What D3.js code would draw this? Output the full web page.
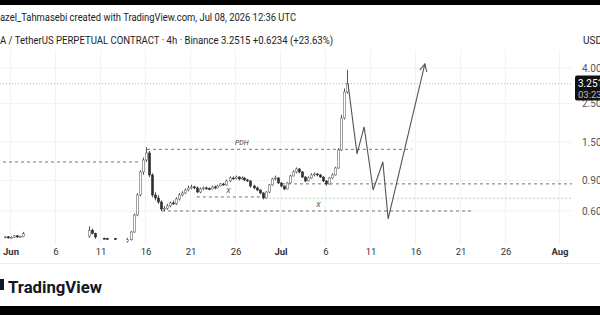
<!DOCTYPE html>
<html lang="en">
<head>
<meta charset="utf-8">
<title>TetherUS perpetual 4h</title>
<script src="https://cdn.jsdelivr.net/npm/d3@7"></script>
<style>
  body { margin: 0; background: #fff; }
  svg { display: block; font-family: Roboto, "Liberation Sans", sans-serif; }
</style>
</head>
<body>
<script>

// ---------- data ----------

// 8h candles, the first one opens 2026-06-14 00:00 UTC
var candleStart = "2026-06-14T00:00:00Z";
var firstOpen = 0.40;
var candleClose = [0.41, 0.454, 0.569, 0.742, 1.007, 1.18, 1.296, 0.968, 0.742, 0.713,
                   0.676, 0.616, 0.622, 0.642, 0.668, 0.660, 0.704, 0.742, 0.762, 0.793,
                   0.815, 0.826, 0.815, 0.772, 0.804, 0.815, 0.810, 0.804, 0.826, 0.815,
                   0.836, 0.859, 0.848, 0.894, 0.930, 0.922, 0.942, 0.918, 0.930, 0.906,
                   0.894, 0.836, 0.815, 0.793, 0.762, 0.713, 0.772, 0.848, 0.918, 0.930,
                   0.870, 0.836, 0.804, 0.870, 0.955, 1.007, 1.048, 1.007, 0.942, 0.894,
                   0.930, 0.968, 0.981, 0.968, 0.942, 0.894, 0.859, 0.930, 0.968, 1.062,
                   1.348, 2.06, 2.91, 3.2515];
var candleHigh  = [0.42, 0.46, 0.58, 0.76, 1.03, 1.22, 1.40, 1.33, 0.99, 0.77,
                   0.74, 0.69, 0.64, 0.66, 0.68, 0.69, 0.72, 0.76, 0.78, 0.81,
                   0.84, 0.85, 0.84, 0.83, 0.82, 0.83, 0.83, 0.82, 0.84, 0.84,
                   0.85, 0.87, 0.87, 0.91, 0.95, 0.95, 0.96, 0.95, 0.95, 0.94,
                   0.92, 0.90, 0.85, 0.83, 0.80, 0.77, 0.78, 0.86, 0.93, 0.96,
                   0.94, 0.88, 0.84, 0.88, 0.97, 1.03, 1.07, 1.06, 1.02, 0.95,
                   0.95, 0.99, 1.00, 0.99, 0.98, 0.95, 0.90, 0.94, 0.99, 1.08,
                   1.38, 2.15, 3.05, 3.90];
var candleLow   = [0.395, 0.405, 0.45, 0.56, 0.73, 0.97, 1.15, 0.94, 0.72, 0.69,
                   0.66, 0.60, 0.60, 0.61, 0.63, 0.65, 0.65, 0.69, 0.73, 0.75,
                   0.78, 0.80, 0.80, 0.76, 0.76, 0.79, 0.80, 0.79, 0.80, 0.80,
                   0.81, 0.83, 0.84, 0.84, 0.88, 0.91, 0.91, 0.90, 0.91, 0.89,
                   0.88, 0.82, 0.80, 0.78, 0.75, 0.70, 0.71, 0.76, 0.84, 0.90,
                   0.86, 0.82, 0.79, 0.80, 0.86, 0.95, 0.99, 0.99, 0.93, 0.88,
                   0.89, 0.92, 0.95, 0.95, 0.93, 0.88, 0.84, 0.85, 0.92, 0.96,
                   1.05, 1.33, 2.02, 2.85];

// scattered early candles before the breakout
var earlyTime  = ["2026-05-31T08:00Z", "2026-05-31T16:00Z", "2026-06-01T00:00Z", "2026-06-01T08:00Z",
                  "2026-06-01T16:00Z", "2026-06-02T00:00Z", "2026-06-02T08:00Z",
                  "2026-06-09T16:00Z", "2026-06-10T00:00Z", "2026-06-10T08:00Z",
                  "2026-06-11T08:00Z", "2026-06-11T16:00Z", "2026-06-12T16:00Z"];
var earlyOpen  = [0.422, 0.426, 0.420, 0.424, 0.432, 0.425, 0.428, 0.43, 0.465, 0.445, 0.418, 0.417, 0.416];
var earlyClose = [0.426, 0.420, 0.424, 0.432, 0.425, 0.428, 0.445, 0.465, 0.445, 0.425, 0.417, 0.416, 0.415];
var earlyHigh  = [0.43, 0.43, 0.428, 0.436, 0.436, 0.432, 0.455, 0.49, 0.475, 0.45, 0.421, 0.42, 0.419];
var earlyLow   = [0.418, 0.416, 0.416, 0.42, 0.42, 0.42, 0.424, 0.42, 0.44, 0.415, 0.413, 0.412, 0.412];

// hand drawn projection path
var projTime  = ["2026-07-08T12:00Z", "2026-07-09T12:00Z", "2026-07-10T07:00Z", "2026-07-11T07:00Z",
                 "2026-07-12T09:00Z", "2026-07-12T23:00Z", "2026-07-17T01:00Z"];
var projPrice = [3.2515, 1.28, 1.83, 0.793, 1.15, 0.54, 4.22];

// horizontal levels
var levelPrice = [1.15, 1.36, 0.86, 0.723, 0.71, 0.60];
var levelFrom  = ["2026-05-30T12:00Z", "2026-06-16T04:00Z", "2026-07-01T04:00Z",
                  "2026-06-21T17:00Z", "2026-06-29T07:00Z", "2026-06-17T20:00Z"];
var levelTo    = ["2026-06-15T12:00Z", "2026-07-15T14:00Z", "2026-08-02T12:00Z",
                  "2026-06-29T07:00Z", "2026-08-02T12:00Z", "2026-07-22T07:00Z"];
var levelKind  = ["dash", "dash", "dash", "dash", "green", "dash"];

// level labels
var noteText  = ["PDH", "X", "X"];
var noteTime  = ["2026-06-26T17:00Z", "2026-06-25T05:00Z", "2026-07-05T05:00Z"];
var notePrice = [1.36, 0.723, 0.60];

// axes
var dateTicks  = ["2026-06-01", "2026-06-06", "2026-06-11", "2026-06-16", "2026-06-21", "2026-06-26",
                  "2026-07-01", "2026-07-06", "2026-07-11", "2026-07-16", "2026-07-21", "2026-07-26", "2026-08-01"];
var dateLabels = ["Jun", "6", "11", "16", "21", "26", "Jul", "6", "11", "16", "21", "26", "Aug"];
var priceTicks = [0.6, 0.9, 1.5, 2.5, 4.0];
var lastPrice = 3.2515;

// ---------- chart ----------

var w = 600, h = 315;
var plotRight = 572, plotTop = 50, plotBottom = 244;

var xScale = d3.scaleUtc()
  .domain([new Date("2026-06-01T00:00:00Z"), new Date("2026-08-01T00:00:00Z")])
  .range([10.5, 559.5]);

var yScale = d3.scaleLog()
  .domain([0.6, 4.0])
  .range([211, 68]);

var svg = d3.select("body").append("svg")
  .attr("width", w)
  .attr("height", h);

svg.append("rect").attr("width", w).attr("height", h).attr("fill", "#fff");

svg.append("clipPath").attr("id", "plot")
  .append("rect")
  .attr("x", 0).attr("y", plotTop)
  .attr("width", plotRight).attr("height", plotBottom - plotTop);

// grid
var grid = svg.append("g").attr("clip-path", "url(#plot)");
grid.selectAll("line.vg")
  .data(dateTicks)
  .enter().append("line")
  .attr("class", "vg")
  .attr("x1", function(d) { return xScale(new Date(d)); })
  .attr("x2", function(d) { return xScale(new Date(d)); })
  .attr("y1", plotTop).attr("y2", plotBottom)
  .attr("stroke", "#f1f2f5");
grid.selectAll("line.hg")
  .data(priceTicks)
  .enter().append("line")
  .attr("class", "hg")
  .attr("x1", 0).attr("x2", plotRight)
  .attr("y1", function(d) { return yScale(d); })
  .attr("y2", function(d) { return yScale(d); })
  .attr("stroke", "#f1f2f5");

// last price line
svg.append("line")
  .attr("x1", 0).attr("x2", plotRight)
  .attr("y1", yScale(lastPrice)).attr("y2", yScale(lastPrice))
  .attr("stroke", "#b8b8b8")
  .attr("stroke-dasharray", "1,2");

// levels
var levels = levelPrice.map(function(p, i) {
  return { p: p, from: new Date(levelFrom[i]), to: new Date(levelTo[i]), kind: levelKind[i] };
});
svg.append("g").attr("clip-path", "url(#plot)")
  .selectAll("line")
  .data(levels)
  .enter().append("line")
  .attr("x1", function(d) { return xScale(d.from); })
  .attr("x2", function(d) { return xScale(d.to); })
  .attr("y1", function(d) { return yScale(d.p); })
  .attr("y2", function(d) { return yScale(d.p); })
  .attr("stroke", function(d) { return d.kind == "green" ? "#a9cfa9" : "#666"; })
  .attr("stroke-dasharray", function(d) { return d.kind == "green" ? "2,2" : "3,3"; })
  .attr("stroke-width", 0.9);

svg.selectAll("text.note")
  .data(noteText)
  .enter().append("text")
  .attr("class", "note")
  .attr("x", function(d, i) { return xScale(new Date(noteTime[i])); })
  .attr("y", function(d, i) { return yScale(notePrice[i]) - 4; })
  .attr("text-anchor", "middle")
  .attr("font-size", 7)
  .attr("font-style", "italic")
  .attr("fill", "#444")
  .text(function(d) { return d; });

// candles
var t0 = new Date(candleStart).getTime();
var step = 8 * 3600 * 1000;
var candles = candleClose.map(function(c, i) {
  return { t: new Date(t0 + i * step), o: i == 0 ? firstOpen : candleClose[i - 1], h: candleHigh[i], l: candleLow[i], c: c };
});
earlyTime.forEach(function(t, i) {
  candles.push({ t: new Date(t), o: earlyOpen[i], h: earlyHigh[i], l: earlyLow[i], c: earlyClose[i] });
});

var cg = svg.append("g").attr("clip-path", "url(#plot)");
cg.selectAll("line.wick")
  .data(candles)
  .enter().append("line")
  .attr("class", "wick")
  .attr("x1", function(d) { return Math.round(xScale(d.t)) + 0.5; })
  .attr("x2", function(d) { return Math.round(xScale(d.t)) + 0.5; })
  .attr("y1", function(d) { return yScale(d.h); })
  .attr("y2", function(d) { return yScale(d.l); })
  .attr("stroke", "#555");
cg.selectAll("rect.body")
  .data(candles)
  .enter().append("rect")
  .attr("class", "body")
  .attr("x", function(d) { return Math.round(xScale(d.t)) - 0.5; })
  .attr("width", 2)
  .attr("y", function(d) { return yScale(Math.max(d.o, d.c)); })
  .attr("height", function(d) { return Math.max(1, Math.abs(yScale(d.o) - yScale(d.c))); })
  .attr("fill", function(d) { return d.c >= d.o ? "#fff" : "#2e2e2e"; })
  .attr("stroke", function(d) { return d.c >= d.o ? "#666" : "#2e2e2e"; })
  .attr("stroke-width", 0.6);

// projection with arrow head
svg.append("defs").append("marker")
  .attr("id", "arrow")
  .attr("viewBox", "0 0 10 10")
  .attr("refX", 9).attr("refY", 5)
  .attr("markerWidth", 9).attr("markerHeight", 9)
  .attr("markerUnits", "userSpaceOnUse")
  .attr("orient", "auto")
  .append("path")
  .attr("d", "M1,1 L9,5 L1,9")
  .attr("fill", "none")
  .attr("stroke", "#555")
  .attr("stroke-width", 1.2);

var proj = projTime.map(function(t, i) { return [new Date(t), projPrice[i]]; });
svg.append("path")
  .datum(proj)
  .attr("d", d3.line()
    .x(function(d) { return xScale(d[0]); })
    .y(function(d) { return yScale(d[1]); }))
  .attr("fill", "none")
  .attr("stroke", "#555")
  .attr("stroke-width", 1.1)
  .attr("marker-end", "url(#arrow)");

// x axis
var xAxis = d3.axisBottom(xScale)
  .tickValues(dateTicks.map(function(d) { return new Date(d + "T00:00:00Z"); }))
  .tickFormat(function(d, i) { return dateLabels[i]; })
  .tickSize(0)
  .tickPadding(0);
var xg = svg.append("g")
  .attr("transform", "translate(0,248)")
  .call(xAxis);
xg.select(".domain").remove();
xg.selectAll("text")
  .attr("font-family", "Roboto, sans-serif")
  .attr("font-size", 9.5)
  .attr("fill", "#333")
  .attr("font-weight", function(d, i) { return isNaN(+dateLabels[i]) ? "bold" : "normal"; });

// y axis
var yAxis = d3.axisRight(yScale)
  .tickValues(priceTicks)
  .tickFormat(d3.format(".3f"))
  .tickSize(0)
  .tickPadding(10);
var yg = svg.append("g")
  .attr("transform", "translate(" + plotRight + ",0)")
  .call(yAxis);
yg.select(".domain").remove();
yg.selectAll("text")
  .attr("font-family", "Roboto, sans-serif")
  .attr("font-size", 10)
  .attr("fill", "#555");

// last price tag
var tagY = yScale(lastPrice);
svg.append("rect")
  .attr("x", 575).attr("y", tagY - 8)
  .attr("width", 30).attr("height", 25)
  .attr("rx", 2)
  .attr("fill", "#111");
svg.append("text")
  .attr("x", 578).attr("y", tagY + 3)
  .attr("font-size", 10).attr("fill", "#fff")
  .text(d3.format(".4f")(lastPrice));
svg.append("text")
  .attr("x", 578).attr("y", tagY + 14)
  .attr("font-size", 9.5).attr("fill", "#bbb")
  .text("03:23:24");

// separator under the date row
svg.append("line")
  .attr("x1", 0).attr("x2", w)
  .attr("y1", 263.5).attr("y2", 263.5)
  .attr("stroke", "#eee");

// header texts
svg.append("text")
  .attr("x", 0).attr("y", 21)
  .attr("font-size", 10).attr("fill", "#222")
  .attr("textLength", 296).attr("lengthAdjust", "spacingAndGlyphs")
  .text("azel_Tahmasebi created with TradingView.com, Jul 08, 2026 12:36 UTC");
svg.append("text")
  .attr("x", 0).attr("y", 44)
  .attr("font-size", 10).attr("fill", "#222")
  .attr("textLength", 333).attr("lengthAdjust", "spacingAndGlyphs")
  .text("A / TetherUS PERPETUAL CONTRACT · 4h · Binance  3.2515  +0.6234 (+23.63%)");
svg.append("text")
  .attr("x", 583).attr("y", 44)
  .attr("font-size", 10).attr("fill", "#222")
  .text("USD");

// logo
svg.append("path")
  .attr("d", "M0,279 h4 v11 h-4 z")
  .attr("fill", "#131722");
svg.append("text")
  .attr("x", 8).attr("y", 293)
  .attr("font-size", 17).attr("font-weight", "bold")
  .attr("fill", "#131722")
  .attr("textLength", 94).attr("lengthAdjust", "spacingAndGlyphs")
  .text("TradingView");

// black bands
svg.append("rect").attr("x", 0).attr("y", 0).attr("width", w).attr("height", 5).attr("fill", "#000");
svg.append("rect").attr("x", 0).attr("y", 306).attr("width", w).attr("height", 9).attr("fill", "#000");

</script>
</body>
</html>
